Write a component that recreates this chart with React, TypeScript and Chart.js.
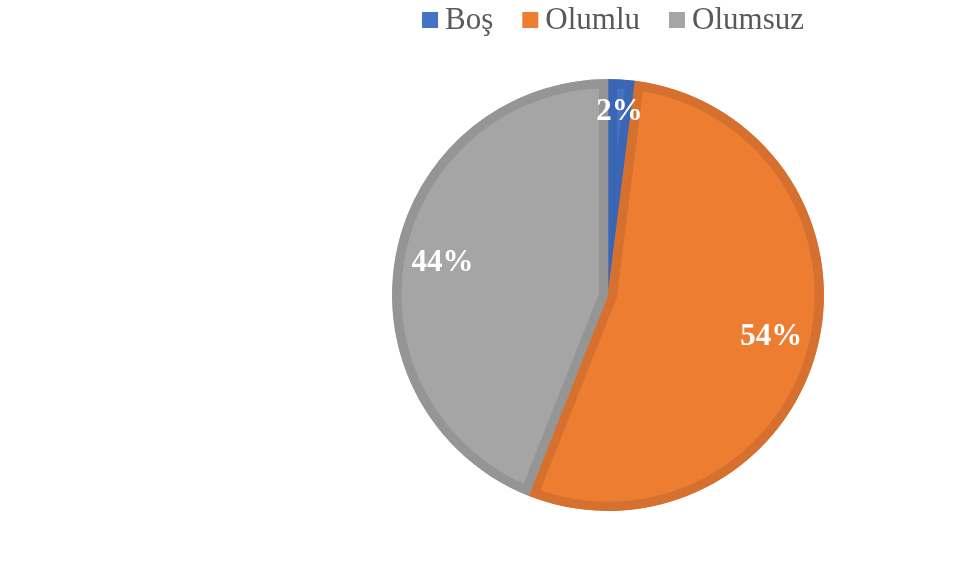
import React, { useEffect, useRef } from "react";
import { Chart, registerables } from "chart.js";

Chart.register(...registerables);

const categories = ["Boş", "Olumlu", "Olumsuz"];
const values = [2, 54, 44];
const fillColors = ["#4472C4", "#ED7D31", "#A5A5A5"];
const borderColors = ["#3A66B4", "#D5702E", "#959595"];

const FONT = "'Liberation Serif', 'Times New Roman', serif";

const customLegend = {
  id: "customLegend",
  afterDraw(chart: any) {
    const ctx = chart.ctx;
    const box = 16;
    const gap = 7;
    const itemGap = 29;
    ctx.save();
    ctx.font = `31px ${FONT}`;
    const widths = categories.map((c) => ctx.measureText(c).width);
    const total =
      widths.reduce((a, w) => a + box + gap + w, 0) + itemGap * (categories.length - 1);
    const cx = (chart.chartArea.left + chart.chartArea.right) / 2 + 5;
    let x = cx - total / 2;
    const y = 20;
    categories.forEach((c, i) => {
      ctx.fillStyle = fillColors[i];
      ctx.fillRect(x, y - box / 2, box, box);
      x += box + gap;
      ctx.fillStyle = "#595959";
      ctx.textBaseline = "middle";
      ctx.textAlign = "left";
      ctx.fillText(c, x, y + 1);
      x += widths[i] + itemGap;
    });
    ctx.restore();
  },
};

const sliceLabels = {
  id: "sliceLabels",
  afterDatasetsDraw(chart: any) {
    const ctx = chart.ctx;
    const meta = chart.getDatasetMeta(0);
    const sum = values.reduce((a, b) => a + b, 0);
    ctx.save();
    ctx.font = `bold 31px ${FONT}`;
    ctx.fillStyle = "#FFFFFF";
    ctx.textAlign = "center";
    ctx.textBaseline = "middle";
    meta.data.forEach((arc: any, i: number) => {
      const { x, y, startAngle, endAngle, outerRadius } = arc.getProps(
        ["x", "y", "startAngle", "endAngle", "outerRadius"],
        true
      );
      const mid = (startAngle + endAngle) / 2;
      const share = values[i] / sum;
      const f = share < 0.05 ? 0.85 : 0.78;
      const lx = x + Math.cos(mid) * outerRadius * f;
      const ly = y + Math.sin(mid) * outerRadius * f;
      ctx.fillText(`${Math.round(share * 100)}%`, lx, ly);
    });
    ctx.restore();
  },
};

export default function App() {
  const ref = useRef<HTMLCanvasElement | null>(null);
  useEffect(() => {
    if (!ref.current) return;
    const chart = new Chart(ref.current, {
      type: "pie",
      data: {
        labels: categories,
        datasets: [
          {
            data: values,
            backgroundColor: fillColors,
            borderColor: borderColors,
            borderWidth: 9,
            borderAlign: "inner",
            radius: 216,
          } as any,
        ],
      },
      options: {
        responsive: false,
        animation: false,
        layout: { padding: { top: 80, bottom: 51, left: 236, right: 0 } },
        plugins: {
          legend: { display: false },
          tooltip: { enabled: false },
        },
      },
      plugins: [customLegend, sliceLabels],
    });
    return () => chart.destroy();
  }, []);
  return (
    <div style={{ position: "fixed", left: 0, top: 0, width: 980, height: 561, background: "#fff" }}>
      <canvas ref={ref} width={980} height={561} style={{ width: 980, height: 561 }} />
    </div>
  );
}
